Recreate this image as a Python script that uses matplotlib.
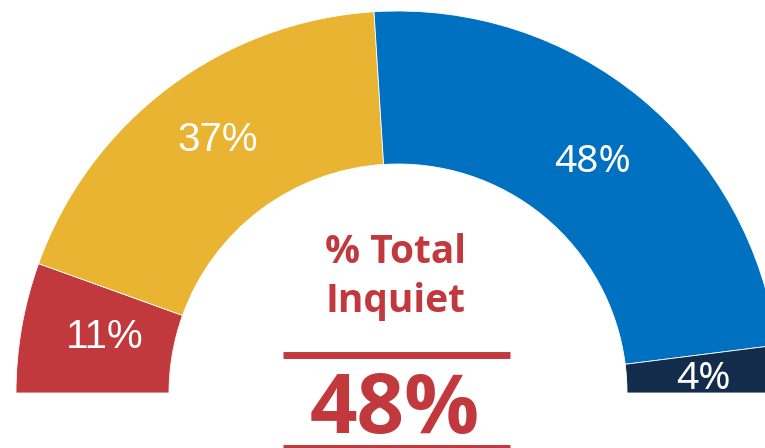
import numpy as np
import matplotlib
matplotlib.use("Agg")
import matplotlib.pyplot as plt

# ---- data ----
categories = ["Muy inquieto", "Algo inquieto", "Poco inquieto", "Nada inquieto"]
values = [11, 37, 48, 4]
pct_labels = ["11%", "37%", "48%", "4%"]
colors = ["#C1393D", "#E8B431", "#0071C1", "#132C4B"]
label_fonts = ["Liberation Sans", "Liberation Sans", "Noto Sans", "Noto Sans"]
title_lines = ["% Total", "Inquiet"]
total_label = "48%"

RED = "#C1393D"

fig = plt.figure(figsize=(7.65, 4.48), dpi=100)
ax = fig.add_axes([0, 0, 1, 1])

cx, cy = 398, 55
r_out, ring = 382, 153

vals = values + [sum(values)]
wedges, _ = ax.pie(vals, colors=colors + ["white"], startangle=180, counterclock=False,
                   center=(cx, cy), radius=r_out,
                   wedgeprops=dict(width=ring, edgecolor="white", linewidth=0.6))
wedges[-1].set_visible(False)

# percentage labels at wedge mid-angles (small pixel nudges for placement)
nudges = [(8, 7), (3, 13), (0, 0), (0, -1)]
label_sizes = [29, 29, 28, 28]
total = float(sum(vals))
start = 180.0
r_lab = r_out - ring / 2
for v, lab, fnt, (dx, dy), fs in zip(values, pct_labels, label_fonts, nudges, label_sizes):
    span = 360.0 * v / total
    mid = np.deg2rad(start - span / 2)
    start -= span
    ax.text(cx + r_lab * np.cos(mid) + dx, cy + r_lab * np.sin(mid) + dy, lab,
            color="white", fontsize=fs, family=fnt,
            ha="center", va="center_baseline")

# center texts
ax.text(cx - 2, 185, title_lines[0], color=RED, fontsize=28, fontweight="bold",
        family="Open Sans", ha="center", va="baseline")
ax.text(cx - 2, 136, title_lines[1], color=RED, fontsize=28, fontweight="bold",
        family="Open Sans", ha="center", va="baseline")
ax.plot([283, 510], [93.5, 93.5], color=RED, lw=5.0, solid_capstyle="butt")
ax.text(cx - 3, 15, total_label, color=RED, fontsize=60, fontweight="bold",
        family="Open Sans", ha="center", va="baseline")
ax.plot([283, 510], [0.5, 0.5], color=RED, lw=5.0, solid_capstyle="butt")

ax.set_xlim(0, 765)
ax.set_ylim(0, 448)
ax.set_aspect("equal")
ax.axis("off")

fig.savefig("out.png", dpi=100)
